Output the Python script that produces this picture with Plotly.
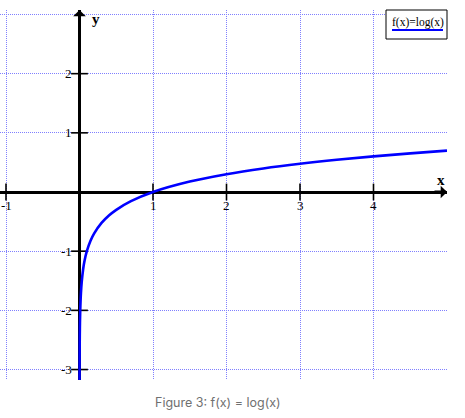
import plotly.graph_objects as go

# ---- data (f(x) = log(x), base 10) ----
curve_x = [0.000665, 0.001, 0.0015, 0.002, 0.003, 0.005, 0.007, 0.01, 0.015, 0.02,
           0.03, 0.05, 0.07, 0.1, 0.15, 0.2, 0.3, 0.4, 0.5, 0.7, 1.0, 1.5, 2.0,
           2.5, 3.0, 3.5, 4.0, 4.5, 5.0]
curve_y = [-3.177, -3.0, -2.824, -2.699, -2.523, -2.301, -2.155, -2.0, -1.824, -1.699,
           -1.523, -1.301, -1.155, -1.0, -0.824, -0.699, -0.523, -0.398, -0.301, -0.155,
           0.0, 0.176, 0.301, 0.398, 0.477, 0.544, 0.602, 0.653, 0.699]

x_tick_vals = [-1, 1, 2, 3, 4]
x_tick_labels = ["-1", "1", "2", "3", "4"]
y_tick_vals = [-3, -2, -1, 1, 2]
y_tick_labels = ["-3", "-2", "-1", "1", "2"]
x_grid_vals = [-1, 1, 2, 3, 4]
y_grid_vals = [-3, -2, -1, 1, 2, 3]

legend_label = "f(x)=log(x)"
caption = "Figure 3: f(x) = log(x)"

W, H = 465, 418
ML, MR, MT, MB = 0, 18, 10, 38
X_RANGE = [-1.0816, 5.0]
Y_RANGE = [-3.177, 3.076]

PW, PH = W - ML - MR, H - MT - MB

def px(xp):
    # screen pixel -> paper fraction (paper = plot area)
    return (xp - ML) / PW

def py(yp):
    return 1 - (yp - MT) / PH

GRID = "#8080ff"
SERIF = "Liberation Serif, Times New Roman, serif"

fig = go.Figure()

# tick marks on the axes (crossing)
fig.add_trace(go.Scatter(
    x=x_tick_vals, y=[0] * len(x_tick_vals), mode="markers",
    marker=dict(symbol="line-ns", size=12, line=dict(color="black", width=1.6)),
    hoverinfo="skip", showlegend=False, cliponaxis=False))
fig.add_trace(go.Scatter(
    x=[0] * len(y_tick_vals), y=y_tick_vals, mode="markers",
    marker=dict(symbol="line-ew", size=12, line=dict(color="black", width=1.6)),
    hoverinfo="skip", showlegend=False, cliponaxis=False))

# the function curve
fig.add_trace(go.Scatter(
    x=curve_x, y=curve_y, mode="lines", line=dict(color="#0000ff", width=2.6, shape="spline"),
    showlegend=False, hoverinfo="skip", cliponaxis=True))

fig.update_xaxes(range=X_RANGE, tickvals=x_grid_vals, showticklabels=False, ticks="",
                 showgrid=True, gridcolor=GRID, gridwidth=1, griddash="1px,1px",
                 zeroline=True, zerolinecolor="black", zerolinewidth=3, showline=False,
                 fixedrange=True)
fig.update_yaxes(range=Y_RANGE, tickvals=y_grid_vals, showticklabels=False, ticks="",
                 showgrid=True, gridcolor=GRID, gridwidth=1, griddash="1px,1px",
                 zeroline=True, zerolinecolor="black", zerolinewidth=3, showline=False,
                 fixedrange=True)

annotations = []
for v, t in zip(x_tick_vals, x_tick_labels):
    annotations.append(dict(x=v, y=0, xref="x", yref="y", text=t, showarrow=False,
                            xanchor="center", yanchor="middle", yshift=-13,
                            font=dict(family=SERIF, size=13, color="black")))
for v, t in zip(y_tick_vals, y_tick_labels):
    annotations.append(dict(x=0, y=v, xref="x", yref="y", text=t, showarrow=False,
                            xanchor="right", yanchor="middle", xshift=-6,
                            font=dict(family=SERIF, size=13, color="black")))

# axis arrows
annotations.append(dict(x=0, y=Y_RANGE[1], xref="x", yref="y", ax=0, ay=14,
                        showarrow=True, arrowhead=1, arrowwidth=3, arrowsize=0.7,
                        arrowcolor="black", text=""))
annotations.append(dict(x=X_RANGE[1], y=0, xref="x", yref="y", ax=-14, ay=0,
                        showarrow=True, arrowhead=1, arrowwidth=3, arrowsize=0.7,
                        arrowcolor="black", text=""))

# axis names
annotations.append(dict(x=px(441), y=py(180), xref="paper", yref="paper", text="<b>x</b>",
                        showarrow=False, xanchor="center", yanchor="middle",
                        font=dict(family=SERIF, size=15, color="black")))
annotations.append(dict(x=px(96), y=py(19), xref="paper", yref="paper", text="<b>y</b>",
                        showarrow=False, xanchor="center", yanchor="middle",
                        font=dict(family=SERIF, size=15, color="black")))

# legend text
annotations.append(dict(x=px(417.5), y=py(23), xref="paper", yref="paper", text=legend_label,
                        showarrow=False, xanchor="center", yanchor="middle",
                        font=dict(family=SERIF, size=11.5, color="black")))

# caption
annotations.append(dict(x=px(218), y=py(402), xref="paper", yref="paper", text=caption,
                        showarrow=False, xanchor="center", yanchor="middle",
                        font=dict(family="Inter, Noto Sans, sans-serif", size=12.5, color="#707070")))

shapes = [
    dict(type="rect", xref="paper", yref="paper", x0=px(386), x1=px(447), y0=py(39), y1=py(10),
         line=dict(color="black", width=1), fillcolor="white", layer="above"),
    dict(type="line", xref="paper", yref="paper", x0=px(392), x1=px(443), y0=py(30), y1=py(30),
         line=dict(color="#0000ff", width=2), layer="above"),
]

fig.update_layout(
    width=W, height=H,
    margin=dict(l=ML, r=MR, t=MT, b=MB, pad=0),
    paper_bgcolor="white", plot_bgcolor="white",
    annotations=annotations, shapes=shapes,
    showlegend=False,
)

fig.write_html("out.html", config={"displayModeBar": False},
               post_script="document.body.style.margin='0';")
